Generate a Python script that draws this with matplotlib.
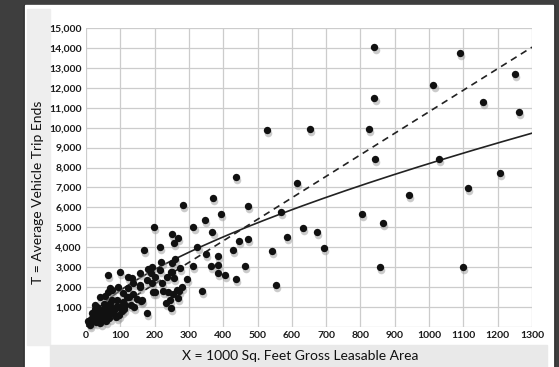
import matplotlib.pyplot as plt
import numpy as np
from matplotlib.patches import Rectangle

# scattered survey points: X = 1000 sq ft GLA, T = average trip ends
x_far = [840, 840, 527, 653, 825, 842, 437, 1090, 1250, 1012, 1157, 1262, 1029,
         1207, 941, 1113, 865, 857, 1099, 614, 370, 471, 393, 347, 568, 804,
         632, 672, 585, 694, 541, 554]
t_far = [14050, 11500, 9880, 9930, 9930, 8430, 7525, 13750, 12700, 12140, 11290,
         10790, 8430, 7730, 6620, 6970, 5220, 3010, 3010, 7225, 6470, 6070, 5670,
         5370, 5770, 5670, 4970, 4770, 4520, 3960, 3820, 2110]

x_mid = [283, 198, 313, 368, 471, 446, 428, 350, 385, 363, 385, 463, 385, 405,
         437, 337, 251, 268, 256, 324, 259, 274, 251, 312, 256, 294, 280, 271,
         216, 169, 219, 250, 64, 99, 122, 157, 192, 216, 189, 201, 236, 247, 181,
         177, 138, 157, 122, 70, 93, 41, 64, 108, 138, 201, 224, 254, 268, 160,
         233, 247, 177, 114, 90, 120, 26, 76, 55, 76, 195, 163, 125, 108, 157,
         192, 221, 134, 239, 265, 245]
t_mid = [6120, 5020, 5020, 4770, 4420, 4320, 3860, 3660, 3560, 3060, 3110, 3060,
         2710, 2610, 2410, 1830, 4670, 4450, 4190, 4010, 3430, 2960, 2760, 3060,
         2460, 2410, 2010, 1810, 4030, 3840, 3260, 3210, 2610, 2760, 2510, 2710,
         3010, 2860, 2710, 2510, 2510, 2760, 2910, 2360, 2210, 2010, 1960, 1960,
         2010, 1500, 1760, 1710, 1660, 1760, 1810, 1660, 1460, 1310, 1210, 950,
         700, 1100, 1350, 1500, 1100, 950, 1560, 1860, 1760, 1350, 1500, 1250,
         2110, 2210, 2210, 2460, 1760, 1860, 1350]

x_near = [10, 15, 20, 22, 30, 35, 40, 45, 50, 55, 60, 65, 70, 80, 85, 90, 12, 28,
          38, 48, 58, 68, 100, 95, 105, 52, 32, 18, 75, 110, 130, 140, 150, 42,
          62, 88, 25, 5]
t_near = [200, 400, 300, 600, 500, 800, 700, 400, 900, 600, 1000, 800, 1200, 700,
          900, 1050, 100, 250, 350, 550, 300, 450, 1000, 600, 800, 1150, 1000,
          700, 1350, 900, 1100, 1000, 1400, 200, 650, 500, 900, 300]

# fitted curve T = a * X^b and average rate line T = r * X
fit_a, fit_b = 92.0, 0.65
avg_rate = 10.8

xs = np.concatenate([x_far, x_mid, x_near])
ts = np.concatenate([t_far, t_mid, t_near])

fig = plt.figure(figsize=(5.59, 3.67), dpi=100, facecolor="#3e3e3e")
W, H = 559, 367


def box(x0, y0, x1, y1, color):
    fig.patches.append(Rectangle((x0 / W, 1 - y1 / H), (x1 - x0) / W, (y1 - y0) / H,
                                 transform=fig.transFigure, color=color, zorder=-5))


box(24, 5, 554, 367, "#1a1a1a")
box(25, 5, 553, 367, "white")
box(27, 9, 50, 345, "#eeeeee")
box(50, 345, 547, 367, "#e9e9e9")

ax = fig.add_axes([86 / W, 1 - 327 / H, 446 / W, 299 / H])
ax.set_facecolor("white")
ax.set_xlim(0, 1300)
ax.set_ylim(0, 15000)
xt = np.arange(0, 1301, 100)
yt = np.arange(0, 15001, 1000)
ax.set_xticks(xt)
ax.set_yticks(yt)
ax.set_xticklabels([str(v) for v in xt])
ax.set_yticklabels(["" if v == 0 else f"{v:,}" for v in yt])
for lab in ax.get_xticklabels() + ax.get_yticklabels():
    lab.set_family("Lato")
    lab.set_fontsize(7.5)
    lab.set_fontweight("bold")
    lab.set_color("#1a1a1a")
ax.tick_params(length=0, pad=3)
ax.grid(True, color="#cccccc", lw=0.9)
ax.set_axisbelow(True)
for s in ax.spines.values():
    s.set_visible(False)

xx = np.linspace(0, 1300, 300)
ax.plot(xx, avg_rate * xx, color="#222222", lw=1.2, ls=(0, (4, 3)), zorder=3)
ax.plot(xx, fit_a * xx ** fit_b, color="#222222", lw=1.2, zorder=3)

ax.scatter(xs + 4, ts - 150, s=30, color="#999999", alpha=0.5, lw=0, zorder=4, clip_on=False)
ax.scatter(xs, ts, s=28, color="#111111", lw=0, zorder=5, clip_on=False)

fig.text(300 / W, 1 - 356 / H, "X = 1000 Sq. Feet Gross Leasable Area",
         ha="center", va="center", fontsize=10, family="Lato", color="#111111")
fig.text(38 / W, 1 - 192 / H, "T = Average Vehicle Trip Ends", rotation=90,
         ha="center", va="center", fontsize=10, family="Lato", color="#111111")

fig.savefig("out.png", dpi=100, facecolor=fig.get_facecolor())
